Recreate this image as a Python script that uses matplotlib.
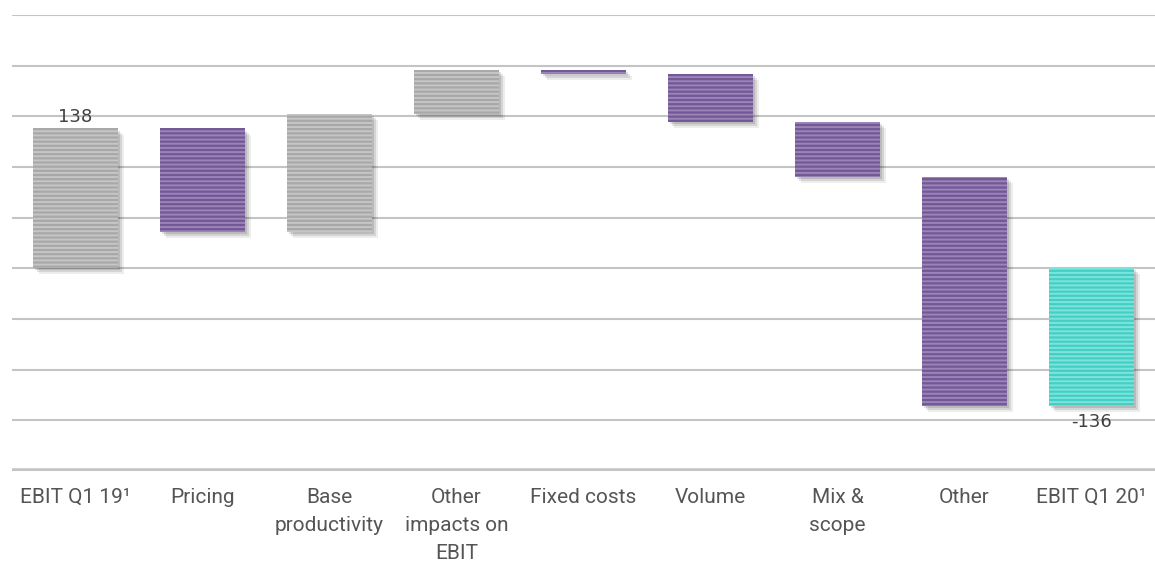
import numpy as np
import matplotlib
matplotlib.use("Agg")
import matplotlib.pyplot as plt

# data
labels = ["EBIT Q1 19\u00b9", "Pricing", "Base\nproductivity", "Other\nimpacts on\nEBIT",
          "Fixed costs", "Volume", "Mix &\nscope", "Other", "EBIT Q1 20\u00b9"]
start_val = 138
deltas = [-102, 116, 44, -4, -48, -54, -226]
end_val = -136

# waterfall positions
bottoms = [0]
heights = [start_val]
run = start_val
for d in deltas:
    bottoms.append(run)
    heights.append(d)
    run += d
bottoms.append(0)
heights.append(end_val)

face = []
hatchc = []
for i, h in enumerate(heights):
    if i == len(heights) - 1:
        face.append("#44cfc4"); hatchc.append("#7ee3da")
    elif h >= 0:
        face.append("#a8a8a8"); hatchc.append("#c6c6c6")
    else:
        face.append("#735896"); hatchc.append("#9a84b8")

plt.rcParams['hatch.linewidth'] = 1.4
fig = plt.figure(figsize=(11.55, 5.64), dpi=100)
ax = fig.add_axes([0.0104, 0.1649, 0.9896, 0.8085])
ax.set_xlim(-0.5, 8.5)
ax.set_ylim(-200, 250)

for y in range(-150, 251, 50):
    ax.axhline(y, color="#c4c4c4", lw=1.5, zorder=0)
ax.axhline(-200, color="#c4c4c4", lw=4, zorder=0)

x = np.arange(len(labels))
w = 0.67
# soft drop shadow: a few offset translucent layers
for i in range(len(labels)):
    lo = min(bottoms[i], bottoms[i] + heights[i])
    hi = max(bottoms[i], bottoms[i] + heights[i])
    for k, a in [(2, 0.12), (4, 0.10), (6, 0.07)]:
        dx = k / 127.0
        dy = k * 1.0
        ax.bar(x[i] + dx, hi - lo, bottom=lo - dy, width=w, color="black",
               alpha=a, linewidth=0, zorder=2)
    ax.bar(x[i], heights[i], bottom=bottoms[i], width=w, color=face[i],
           edgecolor=hatchc[i], linewidth=0, hatch="----", zorder=3)

ax.text(x[0], start_val + 2, str(start_val), ha="center", va="bottom",
        fontsize=13, color="#404040", family="DejaVu Sans")
ax.text(x[-1], end_val - 7, str(end_val), ha="center", va="top",
        fontsize=13, color="#404040", family="DejaVu Sans")

ax.set_xticks(x)
ax.set_xticklabels(labels, fontsize=15, color="#555555", family="Roboto",
                   linespacing=1.62, va="top")
ax.tick_params(axis="x", length=0, pad=12)
ax.set_yticks([])
for s in ax.spines.values():
    s.set_visible(False)

fig.savefig("out.png", dpi=100)
